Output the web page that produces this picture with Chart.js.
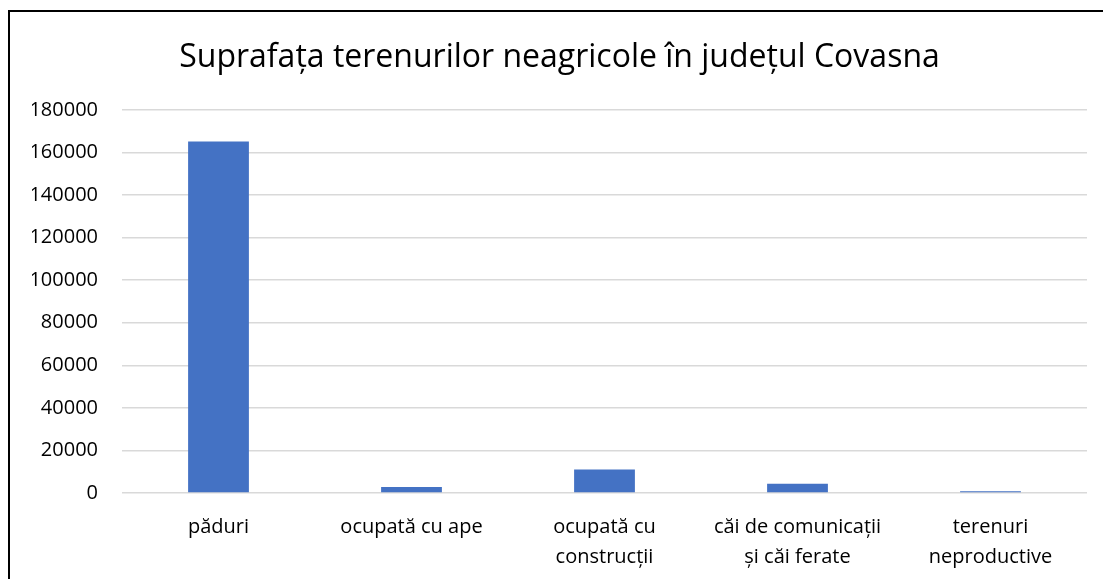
<!DOCTYPE html>
<html lang="ro">
<head>
  <meta charset="utf-8" />
  <title>Suprafața terenurilor neagricole în județul Covasna</title>
  <script src="https://cdn.jsdelivr.net/npm/chart.js@4/dist/chart.umd.min.js"></script>
  <style>
    html, body {
      margin: 0;
      padding: 0;
      background: #fff;
      overflow: hidden;
    }
    #frame {
      position: absolute;
      left: 8px;
      top: 10px;
      width: 1200px;
      height: 700px;
      border-left: 2px solid #000;
      border-top: 2px solid #000;
    }
    #chart-container {
      position: absolute;
      left: 0;
      top: 0;
      width: 1103px;
      height: 579px;
    }
  </style>
</head>
<body>
  <div id="frame"></div>
  <div id="chart-container">
    <canvas id="landChart"></canvas>
  </div>

  <script>
    // data (hectares)
    const categories = [
      "păduri",
      "ocupată cu ape",
      ["ocupată cu", "construcții"],
      ["căi de comunicații", "și căi ferate"],
      ["terenuri", "neproductive"]
    ];
    const areaValues = [165200, 2800, 11000, 4400, 800];
    const yTicks = [0, 20000, 40000, 60000, 80000, 100000, 120000, 140000, 160000, 180000];

    const FONT = "'Open Sans', 'Noto Sans', sans-serif";

    const ctx = document.getElementById("landChart").getContext("2d");
    new Chart(ctx, {
      type: "bar",
      data: {
        labels: categories,
        datasets: [{
          data: areaValues,
          backgroundColor: "#4472c4",
          borderWidth: 0,
          categoryPercentage: 1,
          barPercentage: 0.315
        }]
      },
      options: {
        responsive: true,
        maintainAspectRatio: false,
        animation: false,
        layout: {
          padding: { left: 32, right: 16, top: 0, bottom: 0 }
        },
        plugins: {
          legend: { display: false },
          tooltip: { enabled: false },
          title: {
            display: true,
            text: "Suprafața terenurilor neagricole în județul Covasna",
            color: "#000",
            font: { family: FONT, size: 32, weight: "normal", lineHeight: 1.2 },
            padding: { top: 39, bottom: 32.6 }
          }
        },
        scales: {
          x: {
            grid: { display: false },
            border: { display: false },
            ticks: {
              color: "#000",
              font: { family: FONT, size: 20, lineHeight: 1.5 },
              padding: 11,
              maxRotation: 0,
              autoSkip: false
            },
            afterFit: (scale) => { scale.height = 86; }
          },
          y: {
            min: 0,
            max: 180000,
            afterBuildTicks: (scale) => {
              scale.ticks = yTicks.map(v => ({ value: v }));
            },
            grid: { color: "#d9d9d9", lineWidth: 1.5, drawTicks: false },
            border: { display: false },
            ticks: {
              color: "#000",
              font: { family: FONT, size: 20 },
              padding: 24,
              callback: (v) => String(v)
            },
            afterFit: (scale) => { scale.width = 90; }
          }
        }
      }
    });
  </script>
</body>
</html>
